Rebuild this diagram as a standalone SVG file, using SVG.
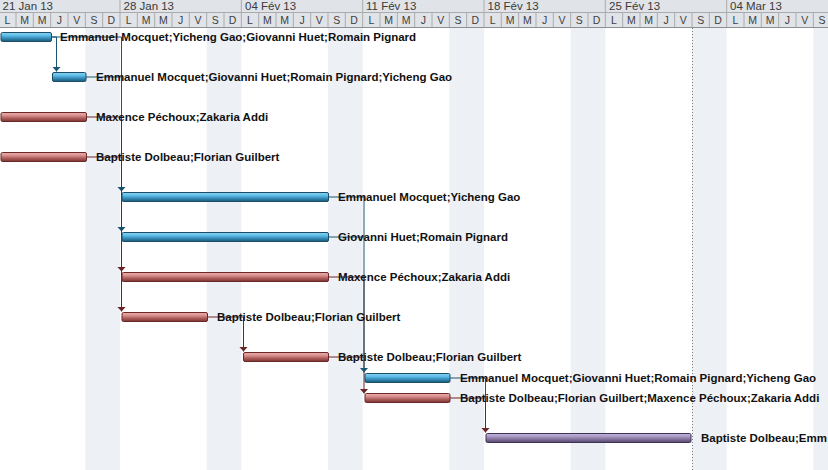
<svg xmlns="http://www.w3.org/2000/svg" width="828" height="470" viewBox="0 0 828 470">
<style>
.hdr{fill:#e0e3e8}
.sep{stroke:#ababab;stroke-width:1;fill:none}
.date{font-family:"Liberation Sans",Arial,sans-serif;font-size:11.5px;fill:#3a3a3a}
.day{font-family:"Liberation Sans",Arial,sans-serif;font-size:10.5px;fill:#404040;text-anchor:middle}
.we{fill:#edf0f5}
.lbl{font-family:"Liberation Sans",Arial,sans-serif;font-size:11.5px;font-weight:bold;fill:#111}
.blue{fill:url(#gBlue);stroke:#1a4d66;stroke-width:1}
.red{fill:url(#gRed);stroke:#6b2626;stroke-width:1}
.purple{fill:url(#gPurple);stroke:#3d3158;stroke-width:1}
.cb{stroke:#1d5672;stroke-width:1;fill:none}
.cr{stroke:#6b2424;stroke-width:1;fill:none}
</style>
<defs>
<linearGradient id="gBlue" x1="0" y1="0" x2="0" y2="1">
<stop offset="0" stop-color="#8ad3f2"/><stop offset="0.35" stop-color="#5bbce6"/><stop offset="0.6" stop-color="#3a92bd"/><stop offset="1" stop-color="#1a5676"/>
</linearGradient>
<linearGradient id="gRed" x1="0" y1="0" x2="0" y2="1">
<stop offset="0" stop-color="#eab0ae"/><stop offset="0.35" stop-color="#d78e8c"/><stop offset="0.6" stop-color="#b26261"/><stop offset="1" stop-color="#7a3333"/>
</linearGradient>
<linearGradient id="gPurple" x1="0" y1="0" x2="0" y2="1">
<stop offset="0" stop-color="#c2b7d8"/><stop offset="0.35" stop-color="#a797c4"/><stop offset="0.6" stop-color="#87779f"/><stop offset="1" stop-color="#55466f"/>
</linearGradient>
<marker id="aB" viewBox="0 0 5 9" refX="5" refY="4.5" markerWidth="5" markerHeight="9" markerUnits="userSpaceOnUse" orient="auto">
<path d="M0,0 L5,4.5 L0,9 z" fill="#1d5672"/>
</marker>
<marker id="aR" viewBox="0 0 5 9" refX="5" refY="4.5" markerWidth="5" markerHeight="9" markerUnits="userSpaceOnUse" orient="auto">
<path d="M0,0 L5,4.5 L0,9 z" fill="#6b2424"/>
</marker>
</defs>
<rect width="828" height="470" fill="#ffffff"/>
<g id="weekends">
<rect class="we" x="85.33" y="28" width="34.67" height="442"/>
<rect class="we" x="206.67" y="28" width="34.67" height="442"/>
<rect class="we" x="328" y="28" width="34.67" height="442"/>
<rect class="we" x="449.33" y="28" width="34.67" height="442"/>
<rect class="we" x="570.67" y="28" width="34.67" height="442"/>
<rect class="we" x="692" y="28" width="34.67" height="442"/>
<rect class="we" x="813.33" y="28" width="34.67" height="442"/>
</g>
<line x1="692.5" y1="28" x2="692.5" y2="470" stroke="#7a7a7a" stroke-width="1" stroke-dasharray="1 2"/>
<g id="header">
<rect class="hdr" x="0" y="0" width="828" height="28"/>
<path class="sep" d="M0 12.5 H828 M120 0 V13 M241.33 0 V13 M362.67 0 V13 M484 0 V13 M605.33 0 V13 M726.67 0 V13"/>
<path class="sep" d="M16 13V27 M33.33 13V27 M50.67 13V27 M68 13V27 M85.33 13V27 M102.67 13V27 M120 13V27 M137.33 13V27 M154.67 13V27 M172 13V27 M189.33 13V27 M206.67 13V27 M224 13V27 M241.33 13V27 M258.67 13V27 M276 13V27 M293.33 13V27 M310.67 13V27 M328 13V27 M345.33 13V27 M362.67 13V27 M380 13V27 M397.33 13V27 M414.67 13V27 M432 13V27 M449.33 13V27 M466.67 13V27 M484 13V27 M501.33 13V27 M518.67 13V27 M536 13V27 M553.33 13V27 M570.67 13V27 M588 13V27 M605.33 13V27 M622.67 13V27 M640 13V27 M657.33 13V27 M674.67 13V27 M692 13V27 M709.33 13V27 M726.67 13V27 M744 13V27 M761.33 13V27 M778.67 13V27 M796 13V27 M813.33 13V27"/>
<line x1="0" y1="27.5" x2="828" y2="27.5" stroke="#8f8f8f" stroke-width="1"/>
<text class="date" x="2.5" y="10">21 Jan 13</text>
<text class="date" x="123.5" y="10">28 Jan 13</text>
<text class="date" x="245" y="10">04 Fév 13</text>
<text class="date" x="366" y="10">11 Fév 13</text>
<text class="date" x="487.5" y="10">18 Fév 13</text>
<text class="date" x="609" y="10">25 Fév 13</text>
<text class="date" x="730" y="10">04 Mar 13</text>
<g class="day">
<text x="7.33" y="24">L</text><text x="24.67" y="24">M</text><text x="42" y="24">M</text><text x="59.33" y="24">J</text><text x="76.67" y="24">V</text><text x="94" y="24">S</text><text x="111.33" y="24">D</text>
<text x="128.67" y="24">L</text><text x="146" y="24">M</text><text x="163.33" y="24">M</text><text x="180.67" y="24">J</text><text x="198" y="24">V</text><text x="215.33" y="24">S</text><text x="232.67" y="24">D</text>
<text x="250" y="24">L</text><text x="267.33" y="24">M</text><text x="284.67" y="24">M</text><text x="302" y="24">J</text><text x="319.33" y="24">V</text><text x="336.67" y="24">S</text><text x="354" y="24">D</text>
<text x="371.33" y="24">L</text><text x="388.67" y="24">M</text><text x="406" y="24">M</text><text x="423.33" y="24">J</text><text x="440.67" y="24">V</text><text x="458" y="24">S</text><text x="475.33" y="24">D</text>
<text x="492.67" y="24">L</text><text x="510" y="24">M</text><text x="527.33" y="24">M</text><text x="544.67" y="24">J</text><text x="562" y="24">V</text><text x="579.33" y="24">S</text><text x="596.67" y="24">D</text>
<text x="614" y="24">L</text><text x="631.33" y="24">M</text><text x="648.67" y="24">M</text><text x="666" y="24">J</text><text x="683.33" y="24">V</text><text x="700.67" y="24">S</text><text x="718" y="24">D</text>
<text x="735.33" y="24">L</text><text x="752.67" y="24">M</text><text x="770" y="24">M</text><text x="787.33" y="24">J</text><text x="804.67" y="24">V</text><text x="822" y="24">S</text>
</g>
</g>
<g id="connectors">
<path class="cb" d="M51.5 37 H56.5 V71.5" marker-end="url(#aB)"/>
<path class="cb" d="M51.5 37 H121.5 V191.5" marker-end="url(#aB)"/>
<path class="cb" d="M86 77 H121.5 M121.5 37 V231.5" marker-end="url(#aB)"/>
<path class="cr" d="M86.5 117 H121.5 V271.5" marker-end="url(#aR)"/>
<path class="cr" d="M86.5 157 H121.5 M121.5 117 V311.5" marker-end="url(#aR)"/>
<path class="cr" d="M207.5 317 H243.5 V351.5" marker-end="url(#aR)"/>
<path class="cr" d="M328.5 277 H364 V393.5" marker-end="url(#aR)"/>
<path class="cr" d="M328.5 357 H364"/>
<path class="cb" d="M328.5 237 H364 M328.5 197 H364 V372.5" marker-end="url(#aB)"/>
<path class="cb" d="M450 378 H485.5 V398"/>
<path class="cr" d="M450 398 H485.5 V432.5" marker-end="url(#aR)"/>
</g>
<g id="task1"><rect class="blue" x="1" y="32.5" width="50.5" height="9" rx="1.5"/><text class="lbl" x="60" y="41">Emmanuel Mocquet;Yicheng Gao;Giovanni Huet;Romain Pignard</text></g>
<g id="task2"><rect class="blue" x="52.5" y="72.5" width="33.5" height="9" rx="1.5"/><text class="lbl" x="96" y="81">Emmanuel Mocquet;Giovanni Huet;Romain Pignard;Yicheng Gao</text></g>
<g id="task3"><rect class="red" x="1" y="112.5" width="85.5" height="9" rx="1.5"/><text class="lbl" x="96" y="121">Maxence Péchoux;Zakaria Addi</text></g>
<g id="task4"><rect class="red" x="1" y="152.5" width="85.5" height="9" rx="1.5"/><text class="lbl" x="96" y="161">Baptiste Dolbeau;Florian Guilbert</text></g>
<g id="task5"><rect class="blue" x="122" y="192.5" width="206.5" height="9" rx="1.5"/><text class="lbl" x="338" y="201">Emmanuel Mocquet;Yicheng Gao</text></g>
<g id="task6"><rect class="blue" x="122" y="232.5" width="206.5" height="9" rx="1.5"/><text class="lbl" x="338" y="241">Giovanni Huet;Romain Pignard</text></g>
<g id="task7"><rect class="red" x="122" y="272.5" width="206.5" height="9" rx="1.5"/><text class="lbl" x="338" y="281">Maxence Péchoux;Zakaria Addi</text></g>
<g id="task8"><rect class="red" x="122" y="312.5" width="85.5" height="9" rx="1.5"/><text class="lbl" x="217" y="321">Baptiste Dolbeau;Florian Guilbert</text></g>
<g id="task9"><rect class="red" x="243.5" y="352.5" width="85" height="9" rx="1.5"/><text class="lbl" x="338" y="361">Baptiste Dolbeau;Florian Guilbert</text></g>
<g id="task10"><rect class="blue" x="365" y="373.5" width="85" height="9" rx="1.5"/><text class="lbl" x="460" y="382">Emmanuel Mocquet;Giovanni Huet;Romain Pignard;Yicheng Gao</text></g>
<g id="task11"><rect class="red" x="365" y="393.5" width="85" height="9" rx="1.5"/><text class="lbl" x="460" y="402">Baptiste Dolbeau;Florian Guilbert;Maxence Péchoux;Zakaria Addi</text></g>
<g id="task12"><rect class="purple" x="486" y="433.5" width="205" height="9" rx="1.5"/><text class="lbl" x="701" y="442">Baptiste Dolbeau;Emm</text></g>
</svg>
